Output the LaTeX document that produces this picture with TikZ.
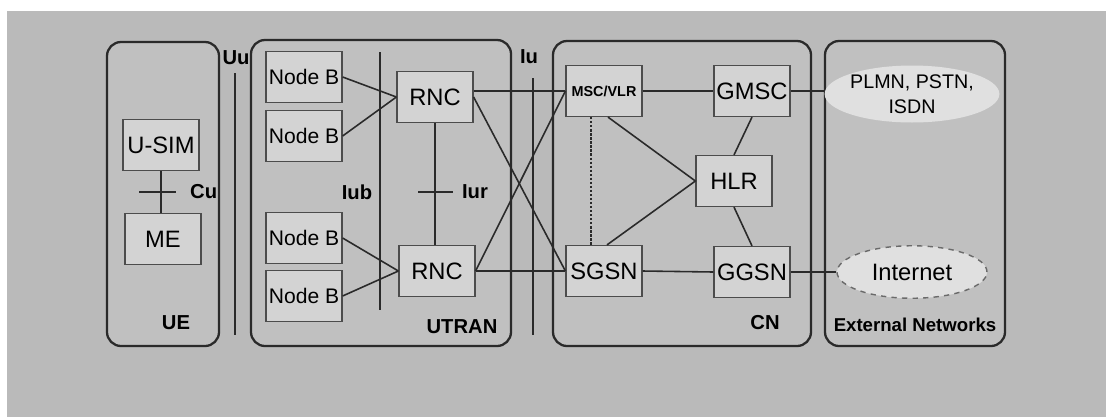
\documentclass[tikz,border=0pt]{standalone}
\usepackage{fontspec}
\setmainfont{Liberation Sans}
\usetikzlibrary{shapes.geometric}
\definecolor{bggray}{HTML}{BABABA}
\definecolor{areagray}{HTML}{C0C0C0}
\definecolor{boxgray}{HTML}{D3D3D3}
\definecolor{linegray}{HTML}{2A2A2A}
\begin{document}
\begin{tikzpicture}[x=0.02cm,y=-0.02cm,
    area/.style={draw=linegray,line width=1.3pt,fill=areagray,rounded corners=0.28cm},
    box/.style={draw=black!70,fill=boxgray,line width=0.7pt,minimum width=1.52cm,
      minimum height=1.02cm,inner sep=0pt,font=\fontsize{13.5}{15}\selectfont},
    nbox/.style={box,font=\fontsize{12}{14}\selectfont},
    cloud/.style={ellipse,fill=boxgray!70!white,inner sep=0pt,align=center,
      minimum width=3cm,minimum height=1.05cm},
    lbl/.style={font=\bfseries\fontsize{11.5}{13}\selectfont},
    link/.style={linegray,line width=0.9pt},
    bar/.style={linegray,line width=1.4pt}]
    \fill[white] (0,0) rectangle (1106,417);
    \fill[bggray] (7,11) rectangle (1106,417);
    \useasboundingbox (0,0) rectangle (1106,417);
    % domains
    \draw[area] (107,42) rectangle (219,346);
    \draw[area] (251,40) rectangle (511,346);
    \draw[area] (553,41) rectangle (811,346);
    \draw[area] (825,41) rectangle (1005,346);
    \node[lbl] (ue) at (176,323) {UE};
    \node[lbl] (utran) at (462,327) {UTRAN};
    \node[lbl] (cn) at (765,323) {CN};
    \node[lbl,font=\bfseries\fontsize{10.6}{12}\selectfont] (ext) at (915,325) {External Networks};
    % UE
    \node[box] (usim) at (161,145) {U-SIM};
    \node[box] (me) at (163,239) {ME};
    \coordinate (cu) at (158,192);
    \draw[link] (usim.south) -- (usim.south |- me.north);
    \draw[link] ([xshift=-0.38cm]cu) -- ([xshift=0.36cm]cu);
    \node[lbl,anchor=west] (culbl) at (184,192) {Cu};
    % Uu and Iu
    \coordinate (uut) at (235,73);
    \coordinate (uub) at (235,335);
    \draw[bar] (uut) -- (uub);
    \node[lbl] (uu) at (236,58) {Uu};
    \coordinate (iut) at (533,78);
    \coordinate (iub) at (533,335);
    \draw[bar] (iut) -- (iub);
    \node[lbl] (iu) at (529,57) {Iu};
    % UTRAN
    \foreach \n/\y in {1/77,2/136,3/238,4/296}
      \node[nbox] (nb\n) at (304,\y) {Node B};
    \node[box] (rnc1) at (435,97) {RNC};
    \node[box] (rnc2) at (437,271) {RNC};
    \coordinate (iubtop) at (380,52);
    \coordinate (iubbot) at (380,310);
    \draw[bar,line width=1.1pt] (iubtop) -- (iubbot);
    \node[lbl] (iublbl) at (357,192) {Iub};
    \foreach \n/\r in {1/rnc1,2/rnc1,3/rnc2,4/rnc2}
      \draw[link] (nb\n.east) -- (\r.west);
    \coordinate (iur) at (433,192);
    \draw[link] (rnc1.south) -- (rnc1.south |- rnc2.north);
    \draw[link] ([xshift=-0.3cm]iur) -- ([xshift=0.4cm]iur);
    \node[lbl] (iurlbl) at (475,192) {Iur};
    % CN
    \node[box,font=\bfseries\fontsize{8.2}{10}\selectfont] (msc) at (604,91) {MSC/VLR};
    \node[box] (gmsc) at (752,91) {GMSC};
    \node[box] (hlr) at (734,181) {HLR};
    \node[box] (sgsn) at (604,271) {SGSN};
    \node[box] (ggsn) at (752,272) {GGSN};
    \draw[link] (rnc1.east |- msc.west) -- (msc.west);
    \draw[link] (rnc1.east) -- (sgsn.west);
    \draw[link] (rnc2.east) -- (msc.west);
    \draw[link] (rnc2.east) -- (sgsn.west);
    \draw[link,line width=1.3pt,densely dotted] ([xshift=-0.26cm]msc.south) -- ([xshift=-0.26cm]sgsn.north);
    \draw[link] (msc.east) -- (gmsc.west);
    \draw[link] (sgsn.east) -- (ggsn.west);
    \draw[link] ([xshift=0.08cm]msc.south) -- (hlr.west) -- ([xshift=0.06cm]sgsn.north);
    \draw[link] (gmsc.south) -- (hlr.north);
    \draw[link] (hlr.south) -- (ggsn.north);
    % external networks
    \node[cloud,minimum width=3.1cm,minimum height=1.14cm,font=\fontsize{11.2}{14}\selectfont] (plmn) at (912,94) {PLMN, PSTN,\\ISDN};
    \node[cloud,draw=linegray!70,dashed,line width=0.8pt,font=\fontsize{13.5}{15}\selectfont] (inet) at (912,272) {Internet};
    \draw[link] (gmsc.east) -- (gmsc.east -| plmn.west);
    \draw[link] (ggsn.east) -- (inet.west);
  \end{tikzpicture}
\end{document}
